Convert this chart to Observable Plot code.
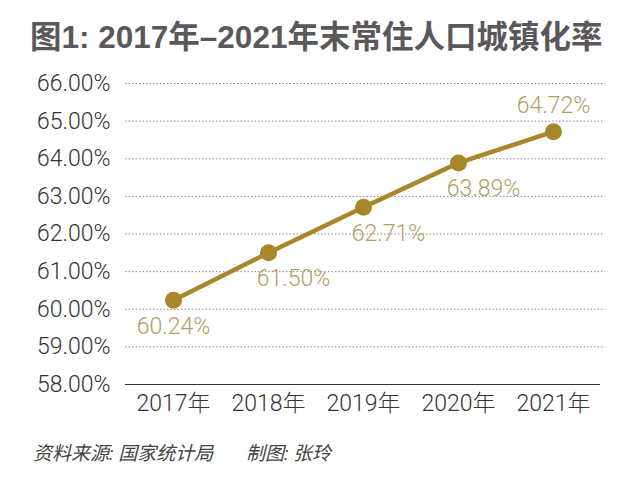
<!DOCTYPE html>
<html><head><meta charset="utf-8">
<script src="https://cdn.jsdelivr.net/npm/d3@7"></script>
<script src="https://cdn.jsdelivr.net/npm/@observablehq/plot@0.6"></script>
<style>
html,body{margin:0;padding:0;background:#fff;}
#wrap{position:relative;width:640px;height:488px;overflow:hidden;background:#fff;}
#title{position:absolute;left:30px;top:11px;font-family:"Liberation Sans","Noto Sans CJK SC",sans-serif;font-weight:bold;font-size:31.5px;color:#5a585a;letter-spacing:0px;white-space:nowrap;}
#chart{position:absolute;left:0;top:65px;}
#caption{position:absolute;left:33px;top:438px;font-family:"Roboto","Noto Sans CJK SC",sans-serif;font-weight:400;font-style:italic;font-size:19px;color:#444;white-space:pre;}
</style></head>
<body>
<div id="wrap">
<div id="title">图1: 2017年–2021年末常住人口城镇化率</div>
<div id="chart"></div>
<div id="caption">资料来源: 国家统计局       制图: 张玲</div>
</div>
<script>
const years = ["2017年","2018年","2019年","2020年","2021年"];
const rates = [60.24, 61.50, 62.71, 63.89, 64.72];
const yTicks = [58,59,60,61,62,63,64,65,66];

const data = years.map((y,i)=>({year:y, rate:rates[i], i}));
const last = data.length-1;
const fmt = d => d.toFixed(2) + "%";
const gold = "#a8862a";
const labelCol = "#b39c62";
const font = "Roboto, Noto Sans CJK SC, sans-serif";
const fs = 23;

const plot = Plot.plot({
  width: 640,
  height: 360,
  marginLeft: 125,
  marginRight: 40,
  marginTop: 18,
  marginBottom: 41,
  style: {fontFamily: font, fontSize: fs + "px", fontWeight: 300, color: "#333", background: "transparent"},
  x: {type: "point", domain: years, padding: 0.5, label: null},
  y: {domain: [58,66], label: null},
  marks: [
    Plot.ruleY(yTicks.filter(t=>t>58), {stroke: "#888", strokeDasharray: "1.5,2", strokeWidth: 1, insetRight: -5}),
    Plot.ruleY([58], {stroke: "#333", strokeWidth: 1.2}),
    Plot.axisY({ticks: yTicks, tickFormat: fmt, tickSize: 0, tickPadding: 15, fontSize: fs, fill: "#333"}),
    Plot.axisX({tickSize: 0, tickPadding: 10, fontSize: fs, fill: "#333"}),
    Plot.line(data, {x: "year", y: "rate", stroke: gold, strokeWidth: 4.5}),
    Plot.dot(data, {x: "year", y: "rate", r: 8.5, fill: gold}),
    Plot.text(data.filter(d=>d.i===0), {x: "year", y: "rate", text: d=>fmt(d.rate), dy: 26, fill: labelCol, fontSize: fs}),
    Plot.text(data.filter(d=>d.i>0 && d.i<last), {x: "year", y: "rate", text: d=>fmt(d.rate), dy: 26, dx: 25, fill: labelCol, fontSize: fs}),
    Plot.text(data.filter(d=>d.i===last), {x: "year", y: "rate", text: d=>fmt(d.rate), dy: -26, fill: labelCol, fontSize: fs})
  ]
});
document.getElementById("chart").appendChild(plot);
</script>
</body></html>
